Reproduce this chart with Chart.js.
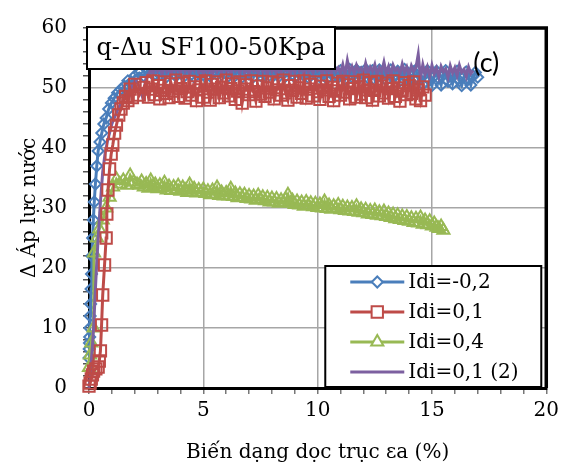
<!DOCTYPE html>
<html>
<head>
<meta charset="utf-8">
<title>q-Δu SF100-50Kpa</title>
<script src="https://cdn.jsdelivr.net/npm/chart.js"></script>
<style>
  body { margin: 0; background: #fff; }
</style>
</head>
<body>
<canvas id="duChart" width="564" height="472"></canvas>
<script>
// strain ea (%) and pore pressure change (kPa) for each test
const blueX = [0, 0.01, 0.02, 0.03, 0.04, 0.05, 0.07, 0.09, 0.11, 0.13,
  0.16, 0.19, 0.23, 0.28, 0.34, 0.4, 0.48, 0.56, 0.65, 0.75,
  0.86, 0.98, 1.1, 1.25, 1.4, 1.55, 1.7, 1.85, 2.0, 2.2, 2.4, 2.6,
  2.7, 2.8, 2.9,
  3.0, 3.1, 3.2, 3.3, 3.4, 3.5, 3.6, 3.7, 3.8, 3.9,
  4.0, 4.1, 4.2, 4.3, 4.4, 4.5, 4.6, 4.7, 4.8, 4.9,
  5.0, 5.1, 5.2, 5.3, 5.4, 5.5, 5.6, 5.7, 5.8, 5.9,
  6.0, 6.1, 6.2, 6.3, 6.4, 6.5, 6.6, 6.7, 6.8, 6.9,
  7.0, 7.1, 7.2, 7.3, 7.4, 7.5, 7.6, 7.7, 7.8, 7.9,
  8.0, 8.1, 8.2, 8.3, 8.4, 8.5, 8.6, 8.7, 8.8, 8.9,
  9.0, 9.1, 9.2, 9.3, 9.4, 9.5, 9.6, 9.7, 9.8, 9.9,
  10.0, 10.1, 10.2, 10.3, 10.4, 10.5, 10.6, 10.7, 10.8, 10.9,
  11.0, 11.1, 11.2, 11.3, 11.4, 11.5, 11.6, 11.7, 11.8, 11.9,
  12.0, 12.1, 12.2, 12.3, 12.4, 12.5, 12.6, 12.7, 12.8, 12.9,
  13.0, 13.1, 13.2, 13.3, 13.4, 13.5, 13.6, 13.7, 13.8, 13.9,
  14.0, 14.1, 14.2, 14.3, 14.4, 14.5, 14.6, 14.7, 14.8, 14.9,
  15.0, 15.1, 15.2, 15.3, 15.4, 15.5, 15.6, 15.7, 15.8, 15.9,
  16.0, 16.1, 16.2, 16.3, 16.4, 16.5, 16.6, 16.7, 16.8, 16.9,
  17.0];
const blueY = [5, 6.5, 7.5, 8.5, 10, 12, 14, 16.5, 19, 22,
  25, 28, 31, 34, 37, 39.5, 41, 42.5, 44, 45,
  46.5, 47.5, 48.3, 49.2, 49.8, 50.3, 51.2, 51, 52, 52.5, 52, 53,
  52.6, 53.1, 52.3,
  52.9, 52.2, 53.3, 52.6, 51.9, 52.8, 53.2, 52.4, 52.0, 53.0,
  52.5, 53.3, 52.1, 52.7, 53.1, 52.3, 51.8, 52.9, 52.4, 53.2,
  52.2, 52.8, 53.4, 52.0, 52.6, 53.0, 52.3, 51.9, 52.8, 53.3,
  52.4, 52.0, 52.9, 53.2, 52.1, 52.7, 53.0, 51.8, 52.5, 53.1,
  52.3, 52.8, 51.9, 53.2, 52.6, 52.1, 53.0, 52.4, 51.8, 52.9,
  53.3, 52.2, 52.7, 51.9, 53.1, 52.5, 52.0, 52.8, 53.2, 52.3,
  51.8, 52.9, 52.4, 53.3, 52.1, 52.6, 51.7, 52.8, 53.1, 52.2,
  52.7, 51.9, 53.0, 52.4, 51.6, 52.8, 53.2, 52.0, 52.5, 51.8,
  52.9, 52.3, 51.5, 52.7, 53.1, 51.9, 52.4, 53.0, 51.6, 52.6,
  52.2, 53.1, 51.7, 52.5, 52.9, 51.4, 52.3, 53.0, 51.8, 52.6,
  51.3, 52.4, 53.0, 51.7, 52.2, 52.8, 51.2, 52.5, 53.1, 51.6,
  52.3, 50.9, 52.7, 53.0, 51.5, 52.1, 50.6, 52.4, 52.9, 51.3,
  50.4, 52.0, 52.8, 51.6, 50.5, 52.3, 52.9, 51.1, 52.0, 50.7,
  52.4, 52.8, 51.2, 50.4, 51.9, 52.7, 51.5, 50.5, 52.0, 52.6,
  51.8];

const redX = [0, 0.05, 0.1, 0.15, 0.2, 0.3, 0.4, 0.45, 0.5, 0.55,
  0.6, 0.68, 0.75, 0.78, 0.83, 0.9, 0.97, 1.04, 1.12, 1.2,
  1.3, 1.4, 1.5, 1.6, 1.7, 1.8, 1.9, 2.0, 2.2, 2.4,
  2.5, 2.6, 2.7, 2.8, 2.9,
  3.0, 3.1, 3.2, 3.3, 3.4, 3.5, 3.6, 3.7, 3.8, 3.9,
  4.0, 4.1, 4.2, 4.3, 4.4, 4.5, 4.6, 4.7, 4.8, 4.9,
  5.0, 5.1, 5.2, 5.3, 5.4, 5.5, 5.6, 5.7, 5.8, 5.9,
  6.0, 6.1, 6.2, 6.3, 6.4, 6.5, 6.6, 6.7, 6.8, 6.9,
  7.0, 7.1, 7.2, 7.3, 7.4, 7.5, 7.6, 7.7, 7.8, 7.9,
  8.0, 8.1, 8.2, 8.3, 8.4, 8.5, 8.6, 8.7, 8.8, 8.9,
  9.0, 9.1, 9.2, 9.3, 9.4, 9.5, 9.6, 9.7, 9.8, 9.9,
  10.0, 10.1, 10.2, 10.3, 10.4, 10.5, 10.6, 10.7, 10.8, 10.9,
  11.0, 11.1, 11.2, 11.3, 11.4, 11.5, 11.6, 11.7, 11.8, 11.9,
  12.0, 12.1, 12.2, 12.3, 12.4, 12.5, 12.6, 12.7, 12.8, 12.9,
  13.0, 13.1, 13.2, 13.3, 13.4, 13.5, 13.6, 13.7, 13.8, 13.9,
  14.0, 14.1, 14.2, 14.3, 14.4, 14.5, 14.6, 14.7];
const redY = [0.3, 0.8, 1.5, 2.2, 2.8, 3.2, 3.5, 4.5, 6.2, 10.5,
  15.5, 20.5, 25, 29, 33, 36.5, 39, 40.5, 42.5, 43.8,
  45.5, 46.5, 47.5, 48.6, 47.9, 49.8, 48.4, 50.6, 48.8, 50.1,
  50.9, 48.5, 49.8, 51.2, 48.9,
  50.4, 48.2, 49.6, 51.0, 49.1, 48.4, 50.7, 49.5, 51.3, 48.6,
  49.9, 50.8, 48.3, 49.4, 51.1, 48.8, 50.2, 47.9, 49.7, 50.9,
  48.5, 51.2, 49.3, 48.0, 50.6, 49.8, 51.0, 48.4, 50.1, 49.2,
  51.3, 48.7, 49.9, 50.7, 48.1, 49.5, 51.0, 47.5, 49.8, 50.5,
  48.9, 51.2, 49.4, 47.8, 50.3, 49.0, 51.1, 48.6, 50.0, 49.3,
  51.0, 48.2, 49.7, 50.8, 48.8, 51.3, 49.2, 48.0, 50.4, 49.6,
  51.1, 48.5, 50.0, 49.1, 51.2, 48.3, 49.8, 50.6, 48.7, 51.0,
  49.4, 48.1, 50.3, 49.7, 51.2, 48.6, 50.1, 47.9, 49.5, 50.8,
  48.8, 51.1, 49.3, 50.5, 48.2, 49.9, 51.0, 48.5, 50.2, 49.0,
  51.3, 48.4, 49.7, 50.9, 48.0, 49.6, 51.1, 48.7, 50.3, 49.2,
  50.8, 48.3, 49.9, 51.2, 48.6, 50.0, 47.8, 49.5, 50.9, 48.9,
  50.4, 49.1, 51.0, 48.2, 49.7, 47.9, 50.2, 48.8];

const greenX = [0, 0.05, 0.1, 0.2, 0.22, 0.35, 0.45, 0.6, 0.75, 0.9,
  1.05, 1.2, 1.35, 1.5, 1.65, 1.8, 1.95, 2.1,
  2.2, 2.3, 2.4, 2.5, 2.6, 2.7, 2.8, 2.9,
  3.0, 3.1, 3.2, 3.3, 3.4, 3.5, 3.6, 3.7, 3.8, 3.9,
  4.0, 4.1, 4.2, 4.3, 4.4, 4.5, 4.6, 4.7, 4.8, 4.9,
  5.0, 5.1, 5.2, 5.3, 5.4, 5.5, 5.6, 5.7, 5.8, 5.9,
  6.0, 6.1, 6.2, 6.3, 6.4, 6.5, 6.6, 6.7, 6.8, 6.9,
  7.0, 7.1, 7.2, 7.3, 7.4, 7.5, 7.6, 7.7, 7.8, 7.9,
  8.0, 8.1, 8.2, 8.3, 8.4, 8.5, 8.6, 8.7, 8.8, 8.9,
  9.0, 9.1, 9.2, 9.3, 9.4, 9.5, 9.6, 9.7, 9.8, 9.9,
  10.0, 10.1, 10.2, 10.3, 10.4, 10.5, 10.6, 10.7, 10.8, 10.9,
  11.0, 11.1, 11.2, 11.3, 11.4, 11.5, 11.6, 11.7, 11.8, 11.9,
  12.0, 12.1, 12.2, 12.3, 12.4, 12.5, 12.6, 12.7, 12.8, 12.9,
  13.0, 13.1, 13.2, 13.3, 13.4, 13.5, 13.6, 13.7, 13.8, 13.9,
  14.0, 14.1, 14.2, 14.3, 14.4, 14.5, 14.6, 14.7, 14.8, 14.9,
  15.0, 15.1, 15.2, 15.3, 15.4, 15.5];
const greenY = [3.4, 5.5, 7.5, 10, 22.5, 25, 26.5, 28, 30, 31.8,
  33.5, 34.8, 34, 34.6, 33.8, 35.4, 34.3, 33.9,
  33.8, 34.4, 33.5, 34.0, 33.3, 34.6, 33.6, 33.9,
  33.2, 33.8, 33.4, 34.2, 33.0, 33.6, 32.9, 33.5, 33.1, 33.7,
  32.8, 33.4, 33.0, 32.6, 33.9, 32.7, 33.2, 32.5, 33.0, 32.6,
  33.1, 32.4, 32.8, 32.2, 32.9, 32.3, 33.4, 32.1, 32.6, 32.0,
  32.5, 32.0, 33.2, 31.9, 32.4, 31.7, 32.3, 31.8, 32.2, 31.6,
  32.0, 31.5, 31.9, 31.3, 32.1, 31.4, 31.8, 31.2, 31.7, 31.0,
  31.6, 31.0, 31.5, 30.8, 31.3, 30.9, 31.4, 32.2, 30.8, 31.2,
  30.6, 31.1, 30.5, 30.9, 30.3, 31.0, 30.4, 30.8, 30.2, 30.7,
  30.1, 30.6, 30.0, 31.1, 29.9, 30.4, 29.8, 30.3, 29.9, 30.5,
  29.7, 30.2, 29.6, 30.1, 29.5, 30.0, 29.4, 30.3, 29.3, 29.8,
  29.2, 29.7, 29.0, 29.5, 28.9, 29.6, 28.8, 29.3, 28.7, 29.4,
  28.6, 29.1, 28.4, 28.9, 28.2, 28.8, 28.1, 28.6, 27.9, 28.5,
  27.8, 28.3, 27.6, 28.2, 27.5, 28.4, 27.3, 27.9, 27.2, 27.8,
  27.0, 27.4, 26.8, 26.6, 26.9, 26.3];

const purpleX = [0, 0.05, 0.1, 0.15, 0.2, 0.25, 0.3, 0.4, 0.5, 0.6,
  0.7, 0.8, 0.9, 1.0, 1.1, 1.2, 1.3, 1.45, 1.6, 1.75,
  1.9, 2.05, 2.2, 2.35, 2.5, 2.65,
  2.7, 2.8, 2.9,
  3.0, 3.1, 3.2, 3.3, 3.4, 3.5, 3.6, 3.7, 3.8, 3.9,
  4.0, 4.1, 4.2, 4.3, 4.4, 4.5, 4.6, 4.7, 4.8, 4.9,
  5.0, 5.1, 5.2, 5.3, 5.4, 5.5, 5.6, 5.7, 5.8, 5.9,
  6.0, 6.1, 6.2, 6.3, 6.4, 6.5, 6.6, 6.7, 6.8, 6.9,
  7.0, 7.1, 7.2, 7.3, 7.4, 7.5, 7.6, 7.7, 7.8, 7.9,
  8.0, 8.1, 8.2, 8.3, 8.4, 8.5, 8.6, 8.7, 8.8, 8.9,
  9.0, 9.1, 9.2, 9.3, 9.4, 9.5, 9.6, 9.7, 9.8, 9.9,
  10.0, 10.1, 10.2, 10.3, 10.4, 10.5, 10.6, 10.7, 10.8, 10.9,
  11.0, 11.1, 11.2, 11.3, 11.4, 11.5, 11.6, 11.7, 11.8, 11.9,
  12.0, 12.1, 12.2, 12.3, 12.4, 12.5, 12.6, 12.7, 12.8, 12.9,
  13.0, 13.1, 13.2, 13.3, 13.4, 13.5, 13.6, 13.7, 13.8, 13.9,
  14.0, 14.1, 14.2, 14.3, 14.4, 14.5, 14.6, 14.7, 14.8, 14.9,
  15.0, 15.1, 15.2, 15.3, 15.4, 15.5, 15.6, 15.7, 15.8, 15.9,
  16.0, 16.1, 16.2, 16.3, 16.4, 16.5, 16.6, 16.7, 16.8];
const purpleY = [0, 2, 4.5, 7, 10, 14, 18, 25, 31, 36,
  39, 41, 42.5, 44, 45, 45.8, 46.8, 47.6, 49.2, 48.5,
  50.6, 51.4, 50.2, 48.4, 51.8, 52.6,
  53.2, 52.4, 53.7,
  52.8, 53.5, 52.3, 53.9, 52.7, 53.4, 52.2, 53.8, 52.9, 53.3,
  52.5, 54.0, 52.8, 53.6, 52.3, 53.5, 52.9, 54.2, 52.6, 53.3,
  52.4, 53.8, 52.7, 53.4, 52.1, 53.9, 52.8, 53.5, 52.5, 54.1,
  52.7, 53.3, 52.2, 53.8, 52.9, 53.5, 52.4, 54.3, 52.6, 53.4,
  52.3, 53.7, 52.8, 53.2, 52.5, 54.0, 52.7, 53.6, 52.2, 53.9,
  52.8, 53.4, 52.4, 53.8, 52.6, 54.4, 52.9, 53.3, 52.3, 53.7,
  52.6, 54.1, 52.8, 53.5, 52.2, 53.9, 52.7, 53.4, 52.5, 54.2,
  52.9, 53.3, 52.4, 53.8, 52.6, 53.5, 52.3, 54.0, 52.8, 53.4,
  52.5, 53.9, 52.2, 54.6, 52.7, 53.6, 52.4, 53.8, 52.9, 53.3,
  52.3, 54.1, 52.6, 53.5, 52.8, 53.9, 52.2, 53.4, 52.7, 54.3,
  52.5, 53.6, 52.1, 53.8, 52.9, 53.3, 52.4, 54.0, 52.6, 53.5,
  52.2, 53.7, 52.8, 53.4, 55.6, 51.6, 53.9, 52.3, 53.5, 52.0,
  53.8, 52.4, 53.3, 51.9, 53.6, 52.7, 53.2, 51.8, 53.7, 52.5,
  53.4, 52.1, 53.8, 52.6, 53.1, 51.9, 53.5, 52.4, 52.9];

const seriesNames = ['Idi=-0,2', 'Idi=0,1', 'Idi=0,4', 'Idi=0,1 (2)'];
const xTickLabels = [0, 5, 10, 15, 20];
const yTickLabels = [0, 10, 20, 30, 40, 50, 60];

const serif = 'DejaVu Serif';
const pts = (xs, ys) => xs.map((x, i) => ({ x: x, y: ys[i] }));

// hollow markers on a 3px line; lower order is painted later (on top)
function series(i, xs, ys, color, style, radius, order) {
  return {
    label: seriesNames[i],
    data: pts(xs, ys),
    showLine: true,
    borderColor: color,
    borderWidth: 3,
    pointStyle: style,
    pointRadius: radius,
    pointBorderWidth: 2,
    pointBorderColor: color,
    pointBackgroundColor: 'rgba(255,255,255,0)',
    clip: false,
    order: order
  };
}

const datasets = [
  series(0, blueX, blueY, '#4a7ebb', 'rectRot', 5.5, 3),
  series(1, redX, redY, '#be4b48', 'rect', 8, 0),
  series(2, greenX, greenY, '#98b954', 'triangle', 7, 2),
  series(3, purpleX, purpleY, '#7d60a0', false, 0, 1)
];

// frame, caption box, "(c)" and legend box inside the plot
const decorations = {
  id: 'decorations',
  beforeDatasetsDraw(chart) {
    const { ctx, chartArea: a } = chart;
    ctx.save();
    ctx.strokeStyle = '#000';
    ctx.lineWidth = 3.5;
    ctx.beginPath();
    ctx.moveTo(a.left, a.top);
    ctx.lineTo(a.right, a.top);
    ctx.lineTo(a.right, a.bottom);
    ctx.stroke();
    ctx.restore();
  },
  afterDatasetsDraw(chart) {
    const { ctx, chartArea: a } = chart;
    ctx.save();

    // caption box
    ctx.fillStyle = '#fff';
    ctx.strokeStyle = '#000';
    ctx.lineWidth = 2;
    ctx.fillRect(a.left - 2, a.top - 1, 248, 42);
    ctx.strokeRect(a.left - 2, a.top - 1, 248, 42);
    ctx.fillStyle = '#000';
    ctx.font = '24px "' + serif + '"';
    ctx.textAlign = 'center';
    ctx.textBaseline = 'middle';
    ctx.fillText('q-Δu SF100-50Kpa', a.left + 122, a.top + 21);

    ctx.font = '27px Lato';
    ctx.textAlign = 'left';
    ctx.textBaseline = 'alphabetic';
    ctx.fillText('(c)', a.right - 73, a.top + 44);

    // legend
    const lx = a.right - 221, ly = a.bottom - 122;
    ctx.fillStyle = '#fff';
    ctx.fillRect(lx, ly, 216, 121);
    ctx.strokeStyle = '#000';
    ctx.lineWidth = 2;
    ctx.strokeRect(lx, ly, 216, 121);
    ctx.font = '20px "' + serif + '"';
    ctx.textBaseline = 'middle';
    chart.data.datasets.forEach((ds, i) => {
      const y = ly + 16 + i * 30;
      ctx.strokeStyle = ds.borderColor;
      ctx.lineWidth = 3;
      ctx.beginPath();
      ctx.moveTo(lx + 25, y);
      ctx.lineTo(lx + 79, y);
      ctx.stroke();
      if (ds.pointStyle) {
        ctx.fillStyle = '#fff';
        ctx.lineWidth = ds.pointBorderWidth;
        Chart.helpers.drawPoint(ctx, {
          pointStyle: ds.pointStyle, radius: ds.pointRadius, rotation: 0,
          borderWidth: ds.pointBorderWidth
        }, lx + 52, y);
      }
      ctx.fillStyle = '#000';
      ctx.fillText(ds.label, lx + 83, y + 1);
    });
    ctx.restore();
  }
};

new Chart(document.getElementById('duChart'), {
  type: 'scatter',
  data: { datasets: datasets },
  options: {
    responsive: false,
    animation: false,
    layout: { padding: { top: 18, right: 15, left: 0, bottom: 0 } },
    plugins: { legend: { display: false }, tooltip: { enabled: false } },
    scales: {
      x: {
        type: 'linear', min: 0, max: 20,
        afterFit(scale) { scale.height = 84; },
        ticks: {
          stepSize: 1, maxTicksLimit: 100, autoSkip: false, maxRotation: 0,
          padding: 5, color: '#000', font: { family: serif, size: 20 },
          callback: v => xTickLabels.includes(v) ? String(v) : ''
        },
        grid: {
          color: c => (c.tick && c.tick.value % 5 === 0 && c.tick.value > 0 && c.tick.value < 20) ? '#a6a6a6' : 'rgba(0,0,0,0)',
          lineWidth: 1.5, tickLength: 6, tickColor: '#777', tickWidth: 1.5
        },
        border: { color: '#000', width: 3 },
        title: {
          display: true, text: 'Biến dạng dọc trục εa (%)', color: '#000',
          font: { family: serif, size: 20 }, padding: { top: 0, bottom: 7 }
        }
      },
      y: {
        min: 0, max: 60,
        afterFit(scale) { scale.width = 89; },
        ticks: {
          stepSize: 2, maxTicksLimit: 100, autoSkip: false,
          padding: 16, color: '#000', font: { family: serif, size: 20 },
          callback: v => yTickLabels.includes(v) ? String(v) : ''
        },
        grid: {
          color: c => (c.tick && c.tick.value % 10 === 0 && c.tick.value > 0 && c.tick.value < 60) ? '#a6a6a6' : 'rgba(0,0,0,0)',
          lineWidth: 1.5, tickLength: 6, tickColor: '#555', tickWidth: 1.5
        },
        border: { color: '#000', width: 3 },
        title: {
          display: true, text: 'Δ Áp lực nước', color: '#000',
          font: { family: serif, size: 20 }, padding: { top: 18, bottom: 0 }
        }
      }
    }
  },
  plugins: [decorations]
});
</script>
</body>
</html>
